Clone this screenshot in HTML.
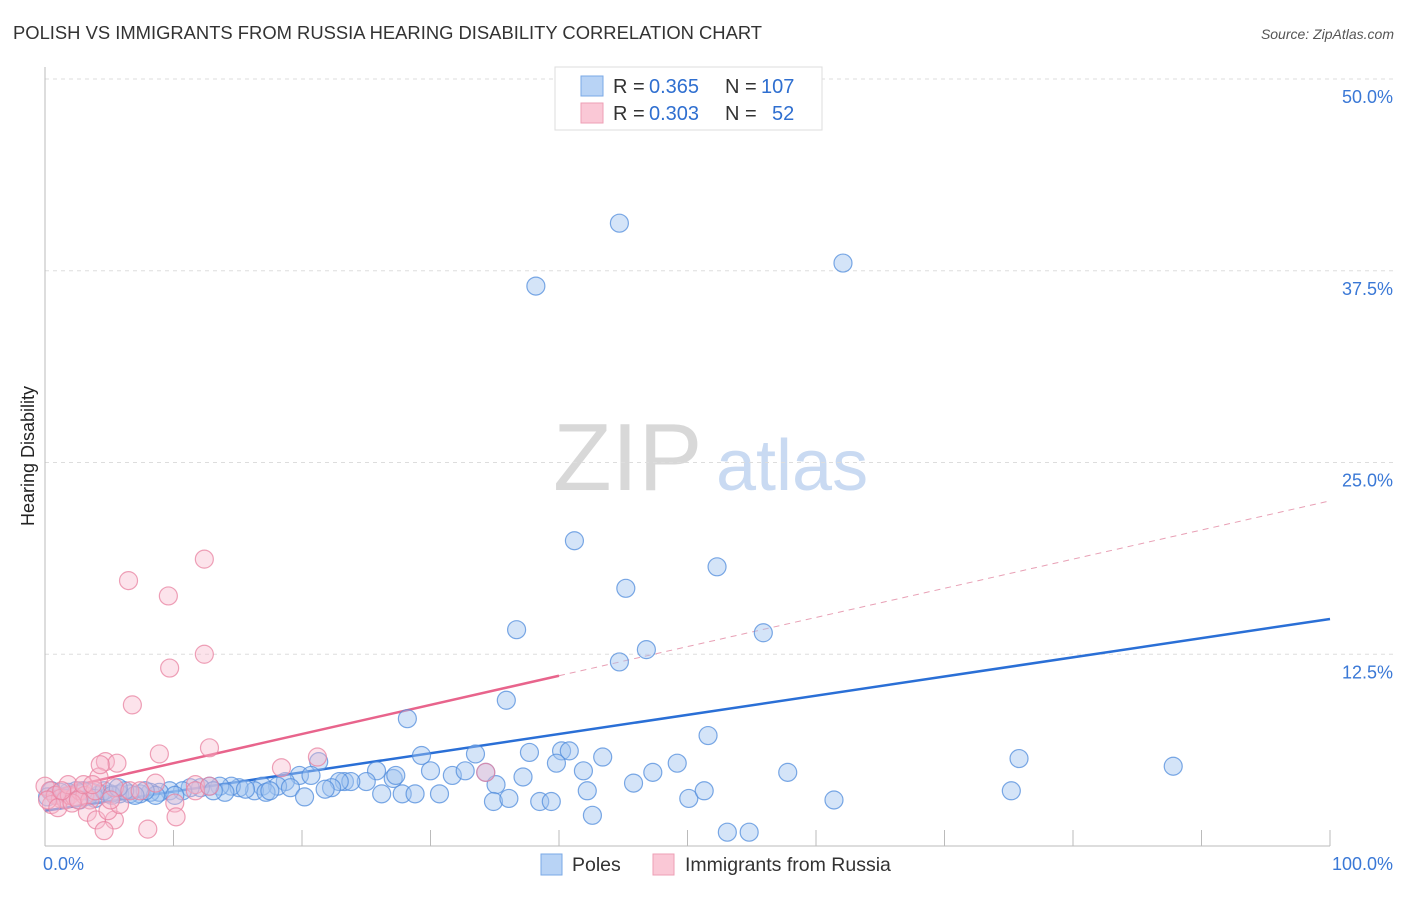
<!DOCTYPE html>
<html><head><meta charset="utf-8"><style>
body{margin:0;background:#fff;font-family:"Liberation Sans",sans-serif;}
svg text{font-family:"Liberation Sans",sans-serif;}
</style></head><body>
<svg id="c" width="1406" height="892" xmlns="http://www.w3.org/2000/svg">
<text x="13" y="39" font-size="18.4" fill="#333">POLISH VS IMMIGRANTS FROM RUSSIA HEARING DISABILITY CORRELATION CHART</text>
<text x="1394" y="39" font-size="14" fill="#555" text-anchor="end" font-style="italic">Source: ZipAtlas.com</text>
<g><text x="553" y="490" font-size="96" font-family="Liberation Serif,serif" fill="#d8d8d8">ZIP</text><text x="716" y="490" font-size="72" fill="#c9daf2">atlas</text></g>
<g id="grid"></g>
<g id="axes"></g>
<g id="trend"></g>
<g id="pts"></g>
<text transform="translate(34,456) rotate(-90)" font-size="18" fill="#222" text-anchor="middle">Hearing Disability</text>
<g>
<rect x="555" y="67" width="267" height="63" fill="#fff" stroke="#ddd"/>
<rect x="581" y="76" width="22" height="20" fill="#b8d3f5" stroke="#7aa8e6"/>
<rect x="581" y="103" width="22" height="20" fill="#fac8d6" stroke="#ee9fb5"/>
<text x="613" y="93" font-size="20" fill="#333">R =</text>
<text x="649" y="93" font-size="20" fill="#2f6fd0">0.365</text>
<text x="725" y="93" font-size="20" fill="#333">N =</text>
<text x="761" y="93" font-size="20" fill="#2f6fd0">107</text>
<text x="613" y="120" font-size="20" fill="#333">R =</text>
<text x="649" y="120" font-size="20" fill="#2f6fd0">0.303</text>
<text x="725" y="120" font-size="20" fill="#333">N =</text>
<text x="772" y="120" font-size="20" fill="#2f6fd0">52</text>
</g>
<g>
<rect x="541" y="854" width="21" height="21" fill="#b8d3f5" stroke="#7aa8e6"/>
<text x="572" y="871" font-size="19.5" fill="#333">Poles</text>
<rect x="653" y="854" width="21" height="21" fill="#fac8d6" stroke="#ee9fb5"/>
<text x="685" y="871" font-size="19.5" fill="#333">Immigrants from Russia</text>
</g>
</svg>
<script>
const yTicks=[12.5,25,37.5,50];
const yTickLabels=["12.5%","25.0%","37.5%","50.0%"];
const xTickLabels=["0.0%","100.0%"];
const polesX=[44.7,62.1,38.2,41.2,45.2,52.3,36.7,55.9,44.7,46.8,35.9,28.2,51.6,75.8,87.8,21.3,29.3,33.5,37.7,40.2,40.8,39.8,43.4,41.9,49.2,47.3,57.8,45.8,34.3,31.7,32.7,30.0,25.8,27.1,27.3,25.0,23.3,23.8,22.9,22.3,19.8,20.7,18.7,18.1,16.9,16.3,15.1,14.5,13.6,12.8,12.1,11.3,10.7,9.7,8.9,8.2,7.4,6.6,5.8,5.1,4.3,3.7,3.0,2.4,1.8,1.2,0.5,0.8,0.2,1.6,2.7,3.9,4.6,5.2,19.1,20.2,21.8,26.2,27.8,28.8,30.7,35.1,37.2,34.9,36.1,38.5,39.4,42.2,42.6,50.1,51.3,61.4,75.2,53.1,54.8,17.2,15.6,17.5,14.0,13.1,10.1,8.6,7.8,7.0,6.2,5.7];
const polesY=[40.6,38.0,36.5,19.9,16.8,18.2,14.1,13.9,12.0,12.8,9.5,8.3,7.2,5.7,5.2,5.5,5.9,6.0,6.1,6.2,6.2,5.4,5.8,4.9,5.4,4.8,4.8,4.1,4.8,4.6,4.9,4.9,4.9,4.4,4.6,4.2,4.2,4.2,4.2,3.8,4.6,4.6,4.2,3.9,3.9,3.6,3.8,3.9,3.9,3.9,3.8,3.8,3.6,3.6,3.5,3.5,3.4,3.4,3.4,3.4,3.4,3.5,3.6,3.6,3.5,3.5,3.6,3.3,3.2,3.1,3.0,3.1,3.6,3.3,3.8,3.2,3.7,3.4,3.4,3.4,3.4,4.0,4.5,2.9,3.1,2.9,2.9,3.6,2.0,3.1,3.6,3.0,3.6,0.9,0.9,3.5,3.7,3.6,3.5,3.6,3.3,3.3,3.6,3.3,3.6,3.8];
const russiaX=[12.4,6.5,9.6,12.4,9.7,6.8,12.8,8.9,18.4,21.2,4.7,5.6,4.2,4.3,34.3,0.0,0.4,0.8,1.2,1.6,1.9,2.3,2.7,3.1,3.5,3.9,0.5,0.2,1.0,3.3,4.0,5.4,4.6,4.9,5.8,8.0,10.1,10.2,5.4,8.6,6.6,7.4,11.7,11.7,12.8,1.8,2.1,2.6,3.0,3.7,1.3,5.1];
const russiaY=[18.7,17.3,16.3,12.5,11.6,9.2,6.4,6.0,5.1,5.8,5.5,5.4,4.5,5.3,4.8,3.9,3.6,3.3,3.1,3.0,3.3,3.2,3.6,3.3,3.0,3.6,2.7,3.0,2.5,2.2,1.7,1.7,1.0,2.3,2.7,1.1,2.8,1.9,3.8,4.1,3.6,3.6,4.0,3.6,3.9,4.0,2.8,3.0,4.0,4.0,3.6,3.0];
const polesTrend=[2.3,14.8];
const russiaTrend=[3.5,22.5];
const russiaSolidEnd=40;
const X0=45,X1=1330,Y0=846,YTOP=79;
const sx=v=>X0+v/100*(X1-X0);
const sy=v=>Y0-v/50*(Y0-YTOP);
const NS="http://www.w3.org/2000/svg";
function mk(tag,attrs,parent){const e=document.createElementNS(NS,tag);for(const k in attrs)e.setAttribute(k,attrs[k]);document.getElementById(parent).appendChild(e);return e;}
yTicks.forEach((t,i)=>{
  const g=mk('line',{x1:X0,x2:1394,y1:sy(t),y2:sy(t),stroke:'#ddd','stroke-dasharray':'4,4'},'grid');
  
  
  const tx=mk('text',{x:1393,y:sy(t)+24,'font-size':18,fill:'#3a78d6','text-anchor':'end'},'grid');
  tx.textContent=yTickLabels[i];
  
  
});
const ax=mk('line',{x1:X0,x2:X0,y1:67,y2:Y0,stroke:'#bbb'},'axes');


const bx=mk('line',{x1:X0,x2:X1,y1:Y0,y2:Y0,stroke:'#bbb'},'axes');


for(let i=1;i<=10;i++){
  const t=mk('line',{x1:sx(i*10),x2:sx(i*10),y1:830,y2:Y0,stroke:'#bbb'},'axes');
  
  
}
[[0,'start',X0-2],[100,'end',1393]].forEach((d,i)=>{
  const t=mk('text',{x:d[2],y:870,'font-size':18,fill:'#3a78d6','text-anchor':d[1]},'axes');
  t.textContent=xTickLabels[i];
  
  
});
function dot(x,y,fill,stroke,name){
  const c=mk('circle',{cx:sx(x),cy:sy(y),r:9,fill:fill,stroke:stroke,'stroke-width':1.2},'pts');
  
  
}
polesX.forEach((x,i)=>dot(x,polesY[i],'rgba(160,196,240,0.45)','rgba(80,140,220,0.75)','poles-point'));
russiaX.forEach((x,i)=>dot(x,russiaY[i],'rgba(248,185,205,0.4)','rgba(232,130,160,0.75)','russia-point'));
const bl=mk('line',{x1:sx(0),y1:sy(polesTrend[0]),x2:sx(100),y2:sy(polesTrend[1]),stroke:'#2a6fd6','stroke-width':2.5},'trend');


const rv=x=>russiaTrend[0]+(russiaTrend[1]-russiaTrend[0])*x/100;
const pl=mk('line',{x1:sx(0),y1:sy(rv(0)),x2:sx(russiaSolidEnd),y2:sy(rv(russiaSolidEnd)),stroke:'#e8648c','stroke-width':2.5},'trend');


const pd=mk('line',{x1:sx(russiaSolidEnd),y1:sy(rv(russiaSolidEnd)),x2:sx(100),y2:sy(rv(100)),stroke:'#e8a0b5','stroke-width':1,'stroke-dasharray':'6,5'},'trend');


</script>
</body></html>
